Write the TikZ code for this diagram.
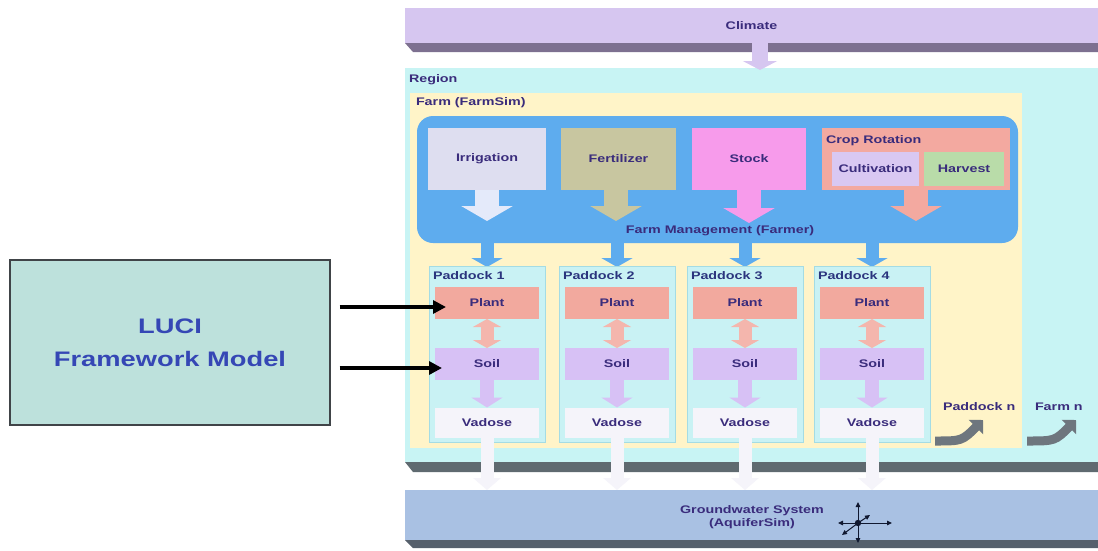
\documentclass[tikz,border=0pt]{standalone}
\usepackage{fontspec}
\setmainfont{Liberation Sans}
\newfontfamily\lab[FakeStretch=1.3]{Liberation Sans}
\usetikzlibrary{arrows.meta,calc}
\definecolor{climc}{HTML}{D6C6F0}
\definecolor{climsh}{HTML}{7D7090}
\definecolor{regc}{HTML}{C8F4F4}
\definecolor{regsh}{HTML}{5F6A70}
\definecolor{farmc}{HTML}{FFF4C8}
\definecolor{fmc}{HTML}{5EACEE}
\definecolor{irrc}{HTML}{DEDEF0}
\definecolor{irra}{HTML}{E4EAFA}
\definecolor{ferc}{HTML}{C8C6A0}
\definecolor{stoc}{HTML}{F79BEB}
\definecolor{cropc}{HTML}{F3A9A0}
\definecolor{cultc}{HTML}{D9C8F2}
\definecolor{harc}{HTML}{B9DCA9}
\definecolor{padc}{HTML}{C9F2F4}
\definecolor{padb}{HTML}{A4DCE4}
\definecolor{plc}{HTML}{F2A99E}
\definecolor{soc}{HTML}{D7C1F5}
\definecolor{vac}{HTML}{F5F4FA}
\definecolor{gwc}{HTML}{A9C1E3}
\definecolor{gwsh}{HTML}{56606C}
\definecolor{arrg}{HTML}{6E767E}
\definecolor{lucic}{HTML}{BDE1DC}
\definecolor{lucib}{HTML}{404448}
\definecolor{lucit}{HTML}{3547B5}
\definecolor{txt}{HTML}{3A2C7C}
\definecolor{padt}{HTML}{2B357E}
\definecolor{cmpc}{HTML}{101830}
\tikzset{
  bx/.style={draw=none, inner sep=0pt, outer sep=0pt, text=txt, align=center},
  lbl/.style={inner sep=0pt, outer sep=0pt, text=txt, anchor=west},
  pad/.style={fill=padc, draw=padb, line width=0.8pt, inner sep=0pt, outer sep=0pt,
              minimum width=116pt, minimum height=176pt},
  inbox/.style={bx, minimum width=104pt},
  blockarr/.style n args={4}{line width=#1, line cap=butt,
              -{Triangle[width=#2,length=#3]}, draw=#4},
  dblarr/.style n args={4}{line width=#1, line cap=butt,
              {Triangle[width=#2,length=#3]}-{Triangle[width=#2,length=#3]}, draw=#4},
  grarr/.style={line width=9pt, line cap=butt, draw=arrg,
              -{Triangle[width=20pt,length=10pt]}},
  blkarr/.style={line width=3.5pt, line cap=butt, draw=black,
              -{Triangle[width=13pt,length=13pt]}},
  cmparr/.style={line width=1pt, draw=cmpc, -{Triangle[width=4.5pt,length=5pt]}}
}
\begin{document}
\begin{tikzpicture}[x=1pt,y=-1pt,font=\lab\bfseries\fontsize{11}{13}\selectfont]
\useasboundingbox (0,0) rectangle (1098,550);
\fill[white] (0,0) rectangle (1098,550);

% Climate
\node[bx, fill=climc, minimum width=693pt, minimum height=35pt, text=txt] (clim) at (751.5,25.5) {Climate};
\fill[climsh] (clim.south west) -- (clim.south east) -- ++(0,9) -- ($(clim.south west)+(8,9)$) -- cycle;

% Region
\node[bx, fill=regc, minimum width=693pt, minimum height=394pt] (reg) at (751.5,265) {};
\fill[regsh] (reg.south west) -- (reg.south east) -- ++(0,10) -- ($(reg.south west)+(8,10)$) -- cycle;
\node[lbl] (reglab) at (409,80) {Region};

% Climate arrow
\coordinate (cla) at (760,43);
\coordinate (clb) at (760,70);
\draw[blockarr={16pt}{34pt}{9pt}{climc}] (cla) -- (clb);

% Farm
\node[bx, fill=farmc, minimum width=612pt, minimum height=355pt] (farm) at (716,270.5) {};
\node[lbl] (farmlab) at (416,103) {Farm (FarmSim)};

% Farm management
\node[bx, fill=fmc, rounded corners=16pt, minimum width=601pt, minimum height=127pt] (fm) at (717.5,179.5) {};
\node[bx, fill=irrc, minimum width=118pt, minimum height=62pt] (irr) at (487,159) {Irrigation};
\node[bx, fill=ferc, minimum width=115pt, minimum height=62pt] (fer) at (618.5,159) {Fertilizer};
\node[bx, fill=stoc, minimum width=114pt, minimum height=62pt] (sto) at (749,159) {Stock};
\node[bx, fill=cropc, minimum width=188pt, minimum height=62pt] (crop) at (916,159) {};
\node[lbl] (croplab) at (826,141) {Crop Rotation};
\node[bx, fill=cultc, minimum width=87pt, minimum height=34pt] (cult) at (875.5,168.5) {Cultivation};
\node[bx, fill=harc, minimum width=80pt, minimum height=34pt] (harv) at (964,168.5) {Harvest};

\coordinate (irrE) at (487,221);
\coordinate (ferE) at (616,221);
\coordinate (stoE) at (749,223);
\coordinate (cropE) at (916,221);
\draw[blockarr={24pt}{51pt}{15pt}{irra}] (irr.south) -- (irrE);
\draw[blockarr={24pt}{51pt}{15pt}{ferc}] (fer.south -| ferE) -- (ferE);
\draw[blockarr={24pt}{51pt}{15pt}{stoc}] (sto.south) -- (stoE);
\draw[blockarr={24pt}{51pt}{15pt}{cropc}] (crop.south) -- (cropE);
\node[bx] (fmlab) at (720,231) {Farm Management (Farmer)};

% Paddocks
\foreach \i/\x in {1/487,2/617,3/745,4/872}{
  \draw[blockarr={13pt}{31pt}{9pt}{fmc}] (fm.south -| \x,0) -- (\x,267);
  \node[pad] (pd\i) at (\x,354) {};
  \node[lbl, text=padt] (pdl\i) at ($(pd\i.north west)+(4,10)$) {Paddock \i};
  \node[inbox, fill=plc, minimum height=32pt] (pl\i) at (\x,303) {Plant};
  \node[inbox, fill=soc, minimum height=32pt] (so\i) at (\x,364) {Soil};
  \node[inbox, fill=vac, minimum height=30pt] (va\i) at (\x,422.5) {Vadose};
  \draw[dblarr={13pt}{28pt}{8pt}{plc!85!white}] (pl\i.south) -- (so\i.north);
  \draw[blockarr={14pt}{31pt}{10pt}{soc}] (so\i.south) -- (va\i.north);
}

% Paddock n / Farm n
\node[lbl] (pdn) at (943,407) {Paddock n};
\node[lbl] (frn) at (1035,407) {Farm n};
\coordinate (pna) at (935,441);
\coordinate (pnb) at (983,420);
\coordinate (fna) at (1027,441);
\coordinate (fnb) at (1076,420);
\draw[grarr] (pna) .. controls (962,441) .. (pnb);
\draw[grarr] (fna) .. controls (1055,441) .. (fnb);

% Groundwater
\node[bx, fill=gwc, minimum width=693pt, minimum height=50pt] (gw) at (751.5,515) {};
\fill[gwsh] (gw.south west) -- (gw.south east) -- ++(0,8) -- ($(gw.south west)+(8,8)$) -- cycle;
\node[bx] (gwlab) at (752,517) {\fontsize{11}{18}\selectfont Groundwater System\\(AquiferSim)};

\foreach \i in {1,2,3,4}{
  \draw[blockarr={13pt}{27pt}{12pt}{vac}] (va\i.south) -- (va\i.south |- gw.north);
}

% Compass
\coordinate (cmp) at (858,523);
\draw[cmparr] (cmp) -- ++(0,-21);
\draw[cmparr] (cmp) -- ++(0,20);
\draw[cmparr] (cmp) -- ++(-20,0);
\draw[cmparr] (cmp) -- ++(34,0);
\draw[cmparr] (cmp) -- ++(12,-8);
\draw[cmparr] (cmp) -- ++(-16,12);
\fill[cmpc] (cmp) circle (3.2pt);

% LUCI
\node[draw=lucib, line width=1.3pt, fill=lucic, minimum width=320pt, minimum height=165pt,
      inner sep=0pt, align=center, text=lucit,
      font=\lab\bfseries\fontsize{21}{33}\selectfont] (luci) at (170,342.5) {LUCI\\Framework Model};
\draw[blkarr] ($(luci.east |- pl1.west)+(9,4)$) -- ($(pl1.west)+(11,4)$);
\draw[blkarr] ($(luci.east |- so1.west)+(9,4)$) -- ($(so1.west)+(7,4)$);
\end{tikzpicture}
\end{document}
